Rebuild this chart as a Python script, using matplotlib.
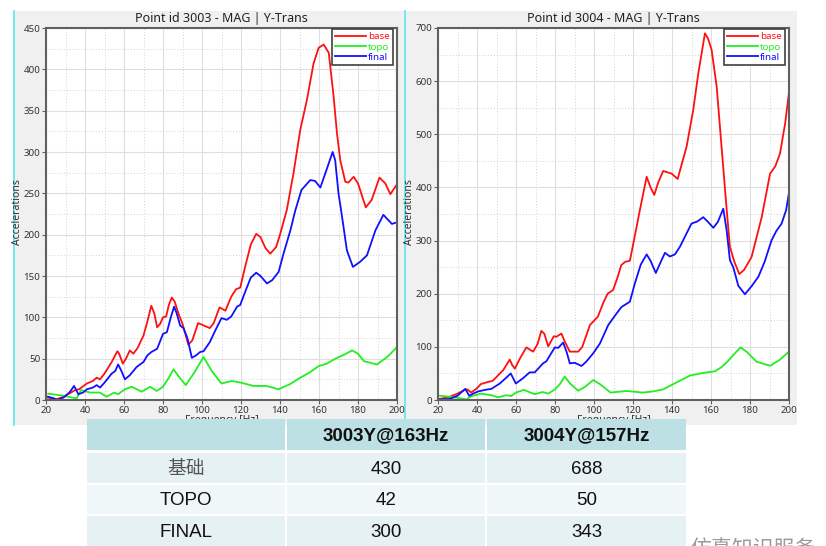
import matplotlib
matplotlib.use("Agg")
import matplotlib.pyplot as plt
from matplotlib.patches import Rectangle
from matplotlib.ticker import MultipleLocator

# ---------------- data ----------------
# Point 3003
f_b1 = [21, 23, 25.5, 29, 32, 35, 37, 41, 44, 46, 47.7, 50, 53.7, 56.6, 57.5, 59.4, 61, 63, 64.8, 67, 70, 72, 74, 75.5,
        77, 78.5, 80, 81.6, 83, 84.5, 86, 88, 90, 93, 95, 98, 101, 104, 106, 109, 112, 115, 117.5, 119.6, 122, 125,
        127.8, 130, 132.5, 135, 138, 140, 143.5, 146.9, 150.4, 153.8, 157.2, 159.8, 162.4, 165, 167.5, 169.2, 170.9,
        173.5, 175, 177.8, 180, 184, 187, 191, 194, 196.6, 200]
v_b1 = [3, 2, 1, 4, 8, 12, 13, 20, 23, 27, 25, 32, 46, 59, 56, 44, 50, 60, 56, 63, 78, 95, 114, 105,
        88, 92, 100, 101, 115, 124, 119, 104, 92, 67, 72, 93, 90, 87, 93, 112, 108, 125, 134, 136, 160, 188,
        201, 197, 184, 177, 185, 200, 230, 274, 327, 363, 407, 426, 430, 420, 367, 323, 290,
        264, 263, 270, 262, 233, 242, 269, 262, 249, 261]
f_t1 = [21.2, 28, 35.7, 38, 42.6, 47.7, 51, 55, 57, 60.5, 64, 69, 73.4, 76.8, 80, 83, 85.4, 88.5, 91.7, 96, 100.8,
        105, 110, 115.3, 120, 126.4, 133, 139.3, 145, 150.4, 155, 159.8, 164, 168.4, 173, 177, 180, 183, 189.7, 195, 200]
v_t1 = [7.6, 5.5, 2, 12, 9, 9, 4, 9, 7, 13, 16, 10, 16, 11, 16, 27, 37, 27, 18, 33, 52,
        35, 20, 23, 21, 17, 17, 13, 19, 27, 33, 41, 44, 50, 55, 60, 56, 47, 43, 52, 64]
f_f1 = [21, 24, 26, 29, 32, 34.4, 36.6, 39, 41, 44, 46, 47.7, 50, 53.7, 55.5, 57, 58.5, 60.5, 63, 66.5, 70, 72, 74,
        77, 80, 82, 84, 85.7, 87, 88.8, 90.5, 92.5, 94.8, 97, 99, 100.8, 104, 107, 110, 112.7, 115, 118, 119.6, 122,
        125, 127.8, 130, 133.3, 136, 139.3, 141.8, 145.3, 147.8, 151, 155.5, 158, 160.7, 163.2, 167, 168.3, 170,
        171.3, 172.6, 174.3, 177.4, 181, 184.6, 188.9, 193, 197.4, 200]
v_f1 = [4, 2, 0, 3, 9, 17, 7, 9, 13, 15, 18, 15, 21, 32, 35, 43, 36, 25, 30, 40, 46, 54, 58,
        62, 80, 82, 100, 113, 105, 90, 87, 75, 51, 54, 58, 59, 70, 85, 99, 97, 101, 113, 115, 130,
        148, 154, 150, 141, 145, 155, 177, 205, 229, 254, 266, 265, 257, 274, 300, 290, 250,
        230, 209, 181, 161, 167, 175, 205, 224, 213, 215]

# Point 3004
f_b2 = [21, 26, 30, 33.7, 35, 37, 40, 42, 45.7, 48, 51, 53.4, 56.8, 58, 59.4, 62, 65.3, 67, 68.8, 71, 73, 74.5, 76.5,
        79.4, 80.7, 83.3, 85, 87.6, 91.9, 94, 97.9, 102, 105, 107, 109.8, 112, 114, 116, 118.4, 121, 123.5, 127, 129,
        130.9, 133, 135.5, 139.8, 142.9, 147.5, 150.9, 153.5, 156.9, 158.5, 160.3, 162.9, 165.4, 168, 169.7, 172,
        174.5, 177, 180.8, 186, 190.3, 193, 195.4, 198, 200]
v_b2 = [2, 6, 12, 19, 20, 14, 22, 30, 34, 36, 47, 56, 76, 66, 59, 78, 99, 95, 91, 105, 130, 125, 101,
        120, 119, 125, 110, 91, 91, 100, 141, 157, 185, 200, 207, 230, 254, 260, 262, 310, 357, 420, 400,
        386, 410, 431, 426, 416, 477, 546, 615, 690, 680, 659, 590, 477, 360, 288, 260,
        237, 245, 269, 344, 426, 440, 464, 520, 579]
f_t2 = [21, 26, 30, 34.5, 37, 42, 47.4, 50.8, 55, 57.6, 60, 64, 69.6, 73.6, 76.5, 80, 82.5, 85, 88, 91.9, 95.5, 99.6,
        103, 108.5, 116.7, 125, 130, 135.5, 142.3, 149.2, 156, 162, 165.5, 168.9, 172, 175.2, 178.5, 183.4, 190.3,
        195, 200]
v_t2 = [8, 6, 4, 1, 7, 12, 9, 5, 9, 7.5, 14, 19, 11, 15, 12, 20, 30, 44, 30, 17.5, 25, 37.5,
        30, 14, 17, 14, 16, 20, 33, 46, 51, 54, 62, 74, 87, 99, 90, 72, 64.5,
        75, 91]
f_f2 = [21, 26, 30, 34, 36, 38, 40.5, 44, 47.4, 51.7, 54.7, 57.3, 59.9, 63.6, 67, 69.6, 73.9, 75.6, 79.9, 81.6, 84.2,
        86, 87.6, 90.2, 93.6, 96, 99.6, 103, 107.3, 111, 114.1, 118.4, 121, 124, 127, 129, 131.7, 134, 136.4, 138.9,
        141.5, 144, 147, 150, 153, 156, 158.5, 161.2, 163.5, 166.3, 168, 169.7, 171.4, 174, 177.4, 181, 184.3,
        187.5, 191, 193.5, 196.2, 198.5, 200]
v_f2 = [1, 2, 8, 21, 8, 12, 16, 19, 21, 31, 41, 50, 31, 41, 52, 52, 69, 73, 99, 98, 108,
        90, 69, 70, 64, 72, 88, 106, 141, 160, 175, 185, 220, 255, 274, 262, 239, 258, 277, 270,
        274, 288, 310, 332, 336, 344, 335, 324, 335, 360, 320, 263, 250, 215, 199, 215, 232,
        260, 300, 318, 332, 357, 390]

titles = ["Point id 3003 - MAG | Y-Trans", "Point id 3004 - MAG | Y-Trans"]
series_names = ["base", "topo", "final"]
series_colors = ["#ff1010", "#22ee22", "#1010ff"]
ylims = [450, 700]
ymajor = [50, 100]
xticks = [20, 40, 60, 80, 100, 120, 140, 160, 180, 200]

table_header = ["", "3003Y@163Hz", "3004Y@157Hz"]
table_rows = [["基础", "430", "688"],
              ["TOPO", "42", "50"],
              ["FINAL", "300", "343"]]

# ---------------- figure ----------------
W, H = 826, 546
fig = plt.figure(figsize=(W / 100, H / 100), dpi=100)
fig.patch.set_facecolor("white")


def fx(px):
    return px / W


def fy(py):
    return 1 - py / H


# panel backgrounds
for x0, x1 in [(13, 404), (404, 797)]:
    fig.patches.append(Rectangle((fx(x0), fy(425)), fx(x1 - x0), (425 - 11) / H,
                                 transform=fig.transFigure, facecolor="#f0f0f0",
                                 edgecolor="none", zorder=-10))
for xc in [13.5, 404.5]:
    fig.add_artist(plt.Line2D([fx(xc), fx(xc)], [fy(425), fy(11)], color="#5ce6f0",
                              lw=1.2, transform=fig.transFigure, zorder=-5))

data = [[(f_b1, v_b1), (f_t1, v_t1), (f_f1, v_f1)],
        [(f_b2, v_b2), (f_t2, v_t2), (f_f2, v_f2)]]
ax_left = [46, 438]

chart_font = "Noto Sans"
for i in range(2):
    ax = fig.add_axes([fx(ax_left[i]), fy(400), fx(351), (400 - 28) / H])
    ax.set_facecolor("white")
    for (f, v), name, c in zip(data[i], series_names, series_colors):
        ax.plot(f, v, color=c, lw=1.3, label=name, solid_joinstyle="round")
    ax.set_xlim(20, 200)
    ax.set_ylim(0, ylims[i])
    ax.set_xticks(xticks)
    ax.xaxis.set_minor_locator(MultipleLocator(10))
    ax.yaxis.set_major_locator(MultipleLocator(ymajor[i]))
    ax.yaxis.set_minor_locator(MultipleLocator(ymajor[i] / 2))
    ax.grid(which="major", color="#dedede", lw=0.8, ls="-")
    ax.grid(which="minor", color="#d4d4d4", lw=0.7, ls=(0, (1, 2)))
    ax.set_axisbelow(True)
    for s in ax.spines.values():
        s.set_color("#606060")
        s.set_linewidth(1.5)
    ax.tick_params(which="major", length=3, width=0.8, color="#606060",
                   labelsize=7, labelcolor="#333333", pad=1)
    ax.tick_params(which="minor", length=0)
    for lab in ax.get_xticklabels() + ax.get_yticklabels():
        lab.set_fontfamily(chart_font)
    ax.set_title(titles[i], fontsize=9, color="#222222", pad=4, fontfamily=chart_font)
    ax.set_xlabel("Frequency [Hz]", fontsize=7.5, color="#333333", fontfamily=chart_font, labelpad=0)
    ax.set_ylabel("Accelerations", fontsize=7.5, color="#333333", fontfamily=chart_font)
    ax.yaxis.set_label_coords(-23 / 351, 0.505)
    leg = ax.legend(loc="upper right", bbox_to_anchor=(1 - 4 / 351, 1 - 1 / 372),
                    borderaxespad=0, frameon=True, fancybox=False,
                    handlelength=3.1, handletextpad=0.25,
                    labelspacing=0.12, borderpad=0.35, prop={"family": chart_font, "size": 7})
    leg.get_frame().set_edgecolor("#404040")
    leg.get_frame().set_linewidth(1.2)
    leg.get_frame().set_facecolor("white")
    leg.get_frame().set_alpha(1)
    for txt, c in zip(leg.get_texts(), series_colors):
        txt.set_color(c)

# ---------------- table ----------------
col_x = [(87, 285), (287, 485), (487, 686)]
row_y = [(419, 450), (453, 483), (485, 514), (516, 547)]
row_colors = ["#bce0e4", "#e5f1f3", "#f0f7f9", "#e5f1f3"]
tfont = ["Liberation Sans", "Noto Sans CJK SC"]
for r, (y0, y1) in enumerate(row_y):
    for c, (x0, x1) in enumerate(col_x):
        fig.patches.append(Rectangle((fx(x0), fy(y1)), fx(x1 - x0), (y1 - y0) / H,
                                     transform=fig.transFigure, facecolor=row_colors[r],
                                     edgecolor="none", zorder=5))
        if r == 0:
            txt = table_header[c]
            kw = dict(fontweight="bold", color="#111111")
        else:
            txt = table_rows[r - 1][c]
            if c == 0 and r == 1:
                kw = dict(color="#555555", fontweight="light")
            else:
                kw = dict(color="#111111")
        if txt:
            fig.text(fx((x0 + x1) / 2), fy((y0 + y1) / 2 + 1), txt, ha="center", va="center",
                     fontsize=13.5, family=tfont, zorder=6, **kw)

# watermark (cut at bottom, as in the source)
fig.text(fx(690), fy(538), "仿真知识服务", ha="left", va="top", fontsize=15,
         color="#9a9a9a", family=["Noto Sans CJK SC", "DejaVu Sans"], zorder=6)

fig.savefig("out.png", dpi=100, facecolor="white")
